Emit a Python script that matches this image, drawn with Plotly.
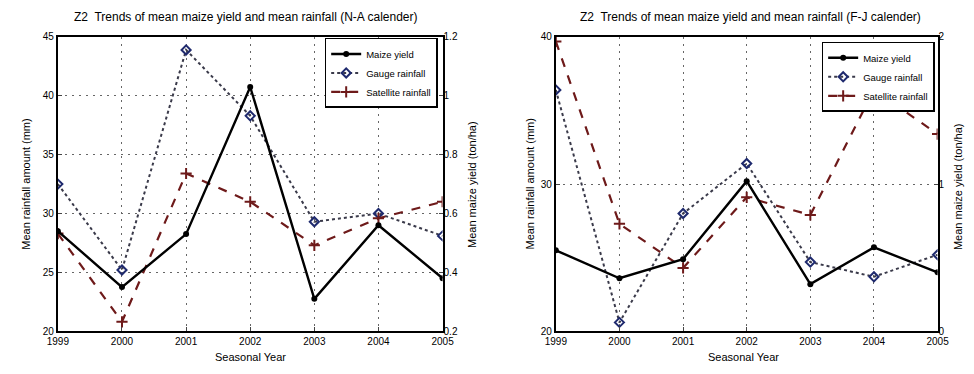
import plotly.graph_objects as go

years = [1999, 2000, 2001, 2002, 2003, 2004, 2005]

# N-A calender (left panel)
na_yield = [0.54, 0.35, 0.53, 1.03, 0.31, 0.56, 0.38]   # ton/ha (right axis)
na_gauge = [32.5, 25.2, 43.9, 38.3, 29.3, 30.0, 28.1]   # mm
na_sat = [28.3, 20.8, 33.4, 31.0, 27.3, 29.6, 31.0]     # mm

# F-J calender (right panel)
fj_yield = [0.55, 0.36, 0.49, 1.02, 0.32, 0.57, 0.40]
fj_gauge = [36.4, 20.6, 28.0, 31.4, 24.7, 23.7, 25.2]
fj_sat = [39.7, 27.3, 24.3, 29.1, 27.9, 36.4, 33.4]

na_rain_ticks = [20, 25, 30, 35, 40, 45]
na_yield_ticks = [0.2, 0.4, 0.6, 0.8, 1.0, 1.2]
na_yield_labels = ["0.2", "0.4", "0.6", "0.8", "1", "1.2"]
fj_rain_ticks = [20, 30, 40]
fj_yield_ticks = [0, 1, 2]

W, H = 974, 374
FONT = "Liberation Sans, Arial, sans-serif"

def px_x(p):
    return p / W

def px_y(p):
    return (H - p) / H

fig = go.Figure()

YIELD_C = "black"
GAUGE_LINE = "#3a3a4a"
GAUGE_MK = "#1f2a6e"
SAT_C = "#6e1a1a"

def add_panel(xa, ya, ya2, leg, yld, gauge, sat):
    fig.add_trace(go.Scatter(
        x=years, y=gauge, name="Gauge rainfall", xaxis=xa, yaxis=ya, legend=leg,
        mode="lines+markers",
        line=dict(color=GAUGE_LINE, width=2, dash="dot"),
        marker=dict(symbol="diamond-open", size=7, color=GAUGE_MK, line=dict(width=2, color=GAUGE_MK)),
        legendrank=2))
    fig.add_trace(go.Scatter(
        x=years, y=sat, name="Satellite rainfall", xaxis=xa, yaxis=ya, legend=leg,
        mode="lines+markers",
        line=dict(color=SAT_C, width=2.2, dash="dash"),
        marker=dict(symbol="cross-thin", size=8, color=SAT_C, line=dict(width=2, color=SAT_C)),
        legendrank=3))
    fig.add_trace(go.Scatter(
        x=years, y=yld, name="Maize yield", xaxis=xa, yaxis=ya2, legend=leg,
        mode="lines+markers",
        line=dict(color=YIELD_C, width=2.4),
        marker=dict(symbol="circle", size=6, color=YIELD_C),
        legendrank=1))

add_panel("x", "y", "y2", "legend", na_yield, na_gauge, na_sat)
add_panel("x2", "y3", "y4", "legend2", fj_yield, fj_gauge, fj_sat)

tickfont = dict(family=FONT, size=10, color="black")
common_x = dict(range=[1999, 2005], tickvals=years, ticks="inside", ticklen=4,
                showline=True, linecolor="black", linewidth=2, mirror=True,
                showgrid=True, gridcolor="#666", griddash="2px,5px", gridwidth=1,
                zeroline=False, tickfont=tickfont)
common_y = dict(ticks="inside", ticklen=4, showline=True, linecolor="black",
                linewidth=2, mirror=True, showgrid=True, gridcolor="#666",
                griddash="2px,5px", gridwidth=1, zeroline=False, tickfont=tickfont)

ydom = [px_y(336), px_y(32)]
fig.update_layout(
    width=W, height=H, margin=dict(l=0, r=0, t=0, b=0),
    paper_bgcolor="white", plot_bgcolor="white",
    font=dict(family=FONT, size=10, color="black"),
    xaxis=dict(domain=[px_x(48), px_x(442)], anchor="y", **common_x),
    yaxis=dict(domain=ydom, anchor="x", range=[20, 45], tickvals=na_rain_ticks, **common_y),
    yaxis2=dict(overlaying="y", side="right", anchor="x", range=[0.2, 1.2],
                tickvals=na_yield_ticks, ticktext=na_yield_labels, ticks="inside", ticklen=4,
                showgrid=False, zeroline=False, showline=False, tickfont=tickfont),
    xaxis2=dict(domain=[px_x(558), px_x(949)], anchor="y3", **common_x),
    yaxis3=dict(domain=ydom, anchor="x2", range=[20, 40], tickvals=fj_rain_ticks, **common_y),
    yaxis4=dict(overlaying="y3", side="right", anchor="x2", range=[0, 2],
                tickvals=fj_yield_ticks, ticks="inside", ticklen=4,
                showgrid=False, zeroline=False, showline=False, tickfont=tickfont),
    legend=dict(x=px_x(437), xanchor="right", y=px_y(33), yanchor="top",
                bgcolor="white", bordercolor="black", borderwidth=1.5,
                font=dict(family=FONT, size=9.5), tracegroupgap=0),
    legend2=dict(x=px_x(946), xanchor="right", y=px_y(37), yanchor="top",
                 bgcolor="white", bordercolor="black", borderwidth=1.5,
                 font=dict(family=FONT, size=9.5), tracegroupgap=0),
    showlegend=True,
)

def ann(text, x, y, size=11, angle=0):
    fig.add_annotation(text=text,
                       x=px_x(x), y=px_y(y), xref="paper", yref="paper",
                       showarrow=False, textangle=angle, xanchor="center", yanchor="middle",
                       font=dict(family=FONT, size=size, color="black"))

ann("Z2  Trends of mean maize yield and mean rainfall (N-A calender)", 241, 11, size=12)
ann("Z2  Trends of mean maize yield and mean rainfall (F-J calender)", 757, 11, size=12)
ann("Seasonal Year", 245, 363, size=11)
ann("Seasonal Year", 750, 363, size=11)
ann("Mean rainfall amount (mm)", 15, 184, size=11, angle=-90)
ann("Mean maize yield (ton/ha)", 472, 184, size=11, angle=-90)
ann("Mean rainfall amount (mm)", 532, 184, size=11, angle=-90)
ann("Mean maize yield (ton/ha)", 970, 187, size=11, angle=-90)

fig.write_html("out.html")
